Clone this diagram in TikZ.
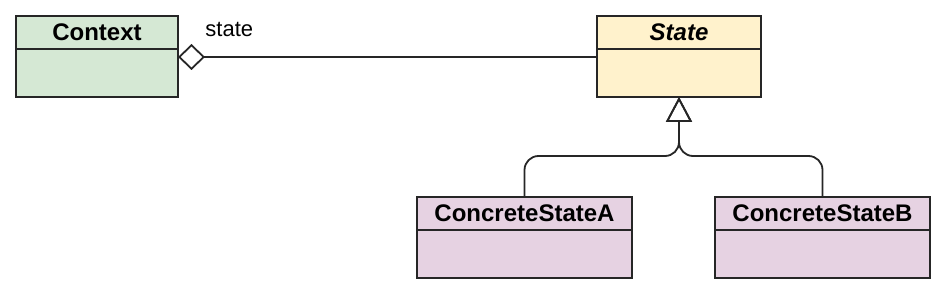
\documentclass[tikz,border=0pt]{standalone}
\usepackage{fontspec}
\setmainfont{Liberation Sans}
\usetikzlibrary{arrows.meta,positioning}
\definecolor{ctxgreen}{HTML}{D5E8D4}
\definecolor{stateyellow}{HTML}{FFF2CC}
\definecolor{concpurple}{HTML}{E6D2E2}

\begin{document}
\begin{tikzpicture}[
  head/.style={draw=black!85, line width=1pt, outer sep=0pt, inner sep=0pt, minimum height=16.5pt, font=\fontsize{12}{14}\selectfont\bfseries},
  body/.style={draw=black!85, line width=1pt, outer sep=0pt, inner sep=0pt, minimum height=24pt},
  lbl/.style={inner sep=0pt, font=\fontsize{11}{13}\selectfont},
  agg/.style={{Diamond[open,length=13.5pt,width=13pt]}-, line width=0.9pt, black!85},
  gen/.style={-{Triangle[open,length=12.5pt,width=13pt]}, line width=0.9pt, black!85, rounded corners=7pt}
]
\useasboundingbox (0,0) rectangle (470.5pt,-152pt);
\node[head, fill=ctxgreen, minimum width=81pt] (ctx) at (48.5pt,-16.25pt) {Context};
\node[body, fill=ctxgreen, minimum width=81pt, below=0pt of ctx] (ctxb) {};
\node[head, fill=stateyellow, minimum width=82pt, right=209.5pt of ctx, font=\fontsize{12}{14}\selectfont\bfseries\itshape] (st) {State};
\node[body, fill=stateyellow, minimum width=82pt, below=0pt of st] (stb) {};
\node[head, fill=concpurple, minimum width=107.5pt, below=50pt of stb, xshift=-77.25pt] (csa) {ConcreteStateA};
\node[body, fill=concpurple, minimum width=107.5pt, below=0pt of csa] (csab) {};
\node[head, fill=concpurple, minimum width=107.5pt, right=41.5pt of csa] (csb) {ConcreteStateB};
\node[body, fill=concpurple, minimum width=107.5pt, below=0pt of csb] (csbb) {};
\node[lbl, right=13.5pt of ctx, yshift=1.5pt] (role) {state};
% association and inheritance
\draw[agg] ([yshift=-4pt]ctxb.north east) -- ([yshift=-4pt]stb.north west);
\coordinate (join) at ([yshift=-29.5pt]stb.south);
\draw[gen] (csa.north) |- (join) -- (stb.south);
\draw[gen] (csb.north) |- (join) -- (stb.south);
\end{tikzpicture}
\end{document}
